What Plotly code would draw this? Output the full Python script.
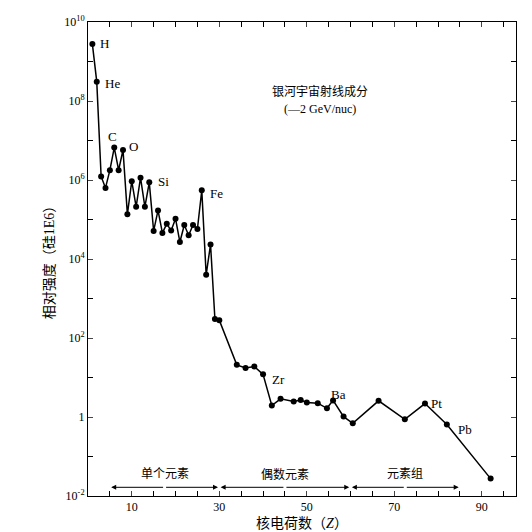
import plotly.graph_objects as go

Z = [1,2,3,4,5,6,7,8,9,10,11,12,13,14,15,16,17,18,19,20,21,22,23,24,25,26,27,28,
     29,30,34,36,38,40,42,44,47,48.6,50,52.5,54.6,56,58.4,60.5,66.4,72.4,77,82,92]
logv = [9.44,8.49,6.09,5.80,6.25,6.82,6.25,6.76,5.13,5.97,5.32,6.06,5.32,5.94,4.71,5.23,4.66,4.89,4.72,5.02,
        4.43,4.86,4.60,4.86,4.76,5.74,3.60,4.37,
        2.48,2.45,1.32,1.24,1.28,1.08,0.29,0.46,0.39,0.43,0.37,0.35,0.22,0.42,0.01,-0.16,0.41,-0.06,0.34,-0.19,-1.56]
vals = [10**v for v in logv]

elem_names = ["H","He","C","O","Si","Fe","Zr","Ba","Pt","Pb"]
elem_x = [2.2,3.5,4.0,9.0,15.5,27.5,41.5,55.0,78.0,84.0]
elem_logv = [9.45,8.45,7.1,6.85,5.95,5.67,0.95,0.58,0.33,-0.32]

ytick_exp = [-2,0,2,4,6,8,10]
ytick_text = ["10<sup>-2</sup>","1","10<sup>2</sup>","10<sup>4</sup>","10<sup>6</sup>","10<sup>8</sup>","10<sup>10</sup>"]

SERIF = "Liberation Serif, Noto Sans CJK SC"
fig = go.Figure(go.Scatter(x=Z, y=vals, mode="lines+markers",
                           line=dict(color="black", width=1.5),
                           marker=dict(color="black", size=6)))

ann = []
for n, x, v in zip(elem_names, elem_x, elem_logv):
    ann.append(dict(x=x, y=v, text=n, showarrow=False, xanchor="left", font=dict(size=13, color="black", family=SERIF)))
ann.append(dict(x=53, y=8.25, text="银河宇宙射线成分", showarrow=False, font=dict(size=12, family=SERIF, color="black")))
ann.append(dict(x=53, y=7.8, text="(—2 GeV/nuc)", showarrow=False, font=dict(size=12, family=SERIF, color="black")))
yarr = -1.78
for a, b, t in [(5, 30, "单个元素"), (30, 60, "偶数元素"), (60, 85, "元素组")]:
    ann.append(dict(x=(a+b)/2, y=-1.45, text=t, showarrow=False, font=dict(size=12, family=SERIF, color="black")))
    mid = (a+b)/2
    for end in (a+0.3, b-0.3):
        ann.append(dict(x=end, y=yarr, ax=mid, ay=yarr, axref="x", ayref="y", xref="x", yref="y",
                        text="", showarrow=True, arrowhead=2, arrowsize=1, arrowwidth=1, arrowcolor="black"))
shapes = [dict(type="line", x0=zz, x1=zz, y0=-1.9, y1=-1.66, xref="x", yref="y",
               line=dict(color="black", width=1)) for zz in (30, 60)]

fig.update_layout(
    width=532, height=532, plot_bgcolor="white", paper_bgcolor="white",
    margin=dict(l=80, r=24, t=14, b=44), showlegend=False,
    annotations=ann, shapes=shapes,
    font=dict(family=SERIF, color="black", size=12),
    xaxis=dict(range=[0, 97.8], tickvals=[10,30,50,70,90], ticks="inside", ticklen=5, automargin=False,
               minor=dict(dtick=5, tick0=0, ticks="inside", ticklen=5, tickcolor="black"),
               showline=True, linecolor="black", mirror="ticks", showgrid=False, zeroline=False,
               title=dict(text="核电荷数（<i>Z</i>）", standoff=4)),
    yaxis=dict(type="log", range=[-2, 10], tickvals=[10**e for e in ytick_exp], ticktext=ytick_text,
               ticks="inside", ticklen=5, automargin=False,
               minor=dict(tickvals=[10**e for e in range(-1, 10, 2)], ticks="inside", ticklen=5, tickcolor="black"),
               showline=True, linecolor="black", mirror="ticks", showgrid=False,
               title=dict(text="相对强度（硅1E6）", standoff=6)),
)
fig.write_html("out.html")
